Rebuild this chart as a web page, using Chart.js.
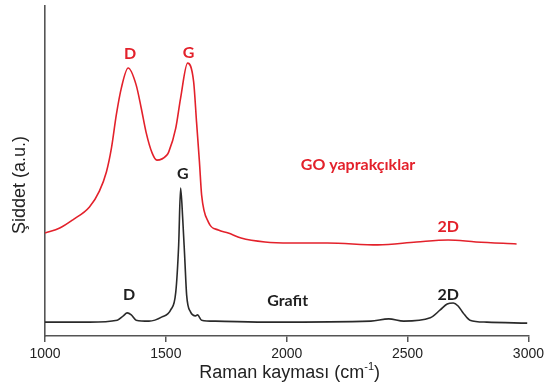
<!DOCTYPE html>
<html>
<head>
<meta charset="utf-8">
<script src="https://cdn.jsdelivr.net/npm/chart.js@4/dist/chart.umd.min.js"></script>
<style>
  html, body { margin: 0; padding: 0; background: #fff; }
  #wrap { width: 548px; height: 385px; }
</style>
</head>
<body>
<div id="wrap"><canvas id="raman" width="548" height="385"></canvas></div>
<script>
// Raman shift (cm-1) and intensity (a.u.) for the two spectra
const goShift = [1000, 1061, 1115, 1184, 1225, 1254, 1275, 1295, 1316, 1344, 1377, 1398, 1418, 1443, 1463,
  1504, 1512, 1541, 1561, 1590, 1615, 1627, 1639, 1648, 1676, 1717, 1758, 1811, 1910, 2016,
  2168, 2377, 2537, 2668, 2783, 2951];
const goIntensity = [31.2, 32.7, 35.2, 39.1, 43.9, 49.7, 57.0, 67.0, 75.2, 81.2, 76.1, 69.1, 61.8, 55.5, 53.3,
  54.8, 55.8, 63.0, 72.1, 82.7, 77.0, 64.8, 52.7, 42.7, 34.5, 32.1, 31.2, 29.7, 28.5, 28.2,
  28.2, 27.6, 28.5, 29.1, 28.5, 27.9];

const grafitShift = [1000, 1184, 1299, 1324, 1340, 1357, 1377, 1430, 1484, 1520, 1541, 1553, 1561, 1570,
  1578, 1586, 1602, 1623, 1631, 1648, 1705, 1939, 2348, 2422, 2484, 2594, 2635, 2664, 2689,
  2709, 2730, 2758, 2828, 2995];
const grafitIntensity = [4.2, 4.2, 4.8, 6.1, 7.0, 6.4, 4.8, 4.5, 5.8, 7.9, 13.3, 27.6, 44.8, 35.2,
  23.9, 12.4, 7.3, 6.1, 6.4, 4.8, 4.5, 4.2, 4.5, 5.2, 4.5, 5.5, 7.9, 9.7, 10.0,
  9.1, 7.0, 4.8, 4.2, 3.9];

const xTicks = [1000, 1500, 2000, 2500, 3000];

// peak / series labels: [text, shift, intensity, colour]
const peakLabels = [
  ['D', 1352, 85.5, '#e3212b'],
  ['G', 1594, 85.8, '#e3212b'],
  ['GO yaprakçıklar', 2295, 52.0, '#e3212b'],
  ['2D', 2668, 33.0, '#e3212b'],
  ['G', 1570, 49.0, '#1f1f1f'],
  ['D', 1348, 12.6, '#1f1f1f'],
  ['Grafit', 2004, 10.6, '#1f1f1f'],
  ['2D', 2668, 12.4, '#1f1f1f']
];

function toPoints(xs, ys) {
  return xs.map((x, i) => ({ x: x, y: ys[i] }));
}

const textPlugin = {
  id: 'ramanText',
  afterDraw(chart) {
    const ctx = chart.ctx;
    const xs = chart.scales.x;
    const ys = chart.scales.y;
    ctx.save();
    ctx.textAlign = 'center';
    ctx.textBaseline = 'middle';
    ctx.font = 'bold 16px Lato, "Open Sans", sans-serif';
    peakLabels.forEach(([text, sx, iv, color]) => {
      ctx.fillStyle = color;
      ctx.fillText(text, xs.getPixelForValue(sx), ys.getPixelForValue(iv));
    });

    // axis titles
    ctx.fillStyle = '#222';
    const big = '18px "Liberation Sans", Arial, sans-serif';
    const small = '11px "Liberation Sans", Arial, sans-serif';
    const main = 'Raman kayması (cm';
    const sup = '-1';
    const tail = ')';
    ctx.font = big;
    const wMain = ctx.measureText(main).width;
    const wTail = ctx.measureText(tail).width;
    ctx.font = small;
    const wSup = ctx.measureText(sup).width;
    const total = wMain + wSup + wTail;
    const cx = (chart.chartArea.left + chart.chartArea.right) / 2 + 3;
    const x0 = cx - total / 2;
    const yT = 373;
    ctx.textAlign = 'left';
    ctx.font = big;
    ctx.fillText(main, x0, yT);
    ctx.font = small;
    ctx.fillText(sup, x0 + wMain, yT - 6);
    ctx.font = big;
    ctx.fillText(tail, x0 + wMain + wSup, yT);

    ctx.translate(20, 185);
    ctx.rotate(-Math.PI / 2);
    ctx.textAlign = 'center';
    ctx.fillText('Şiddet (a.u.)', 0, 0);
    ctx.restore();
  }
};

new Chart(document.getElementById('raman'), {
  type: 'line',
  data: {
    datasets: [
      {
        label: 'GO yaprakçıklar',
        data: toPoints(goShift, goIntensity),
        borderColor: '#e3212b',
        borderWidth: 1.6,
        pointRadius: 0,
        cubicInterpolationMode: 'monotone'
      },
      {
        label: 'Grafit',
        data: toPoints(grafitShift, grafitIntensity),
        borderColor: '#2a2a2a',
        borderWidth: 1.6,
        pointRadius: 0,
        cubicInterpolationMode: 'monotone'
      }
    ]
  },
  options: {
    responsive: false,
    animation: false,
    layout: { padding: { top: 6, right: 15, left: 0, bottom: 0 } },
    plugins: {
      legend: { display: false },
      tooltip: { enabled: false }
    },
    scales: {
      x: {
        type: 'linear',
        min: 1000,
        max: 3000,
        afterFit(scale) { scale.height = 49; },
        afterBuildTicks(scale) { scale.ticks = xTicks.map(v => ({ value: v })); },
        grid: { drawOnChartArea: false, drawTicks: true, tickLength: 6, color: '#555', lineWidth: 1.5 },
        border: { display: true, color: '#555', width: 1.6 },
        ticks: {
          color: '#222',
          padding: 4,
          maxRotation: 0,
          font: { family: '"Liberation Sans", Arial, sans-serif', size: 14 },
          callback: v => String(v)
        }
      },
      y: {
        min: 0,
        max: 100,
        afterFit(scale) { scale.width = 45; },
        grid: { display: false },
        border: { display: true, color: '#555', width: 1.6 },
        ticks: { display: false }
      }
    }
  },
  plugins: [textPlugin]
});
</script>
</body>
</html>
